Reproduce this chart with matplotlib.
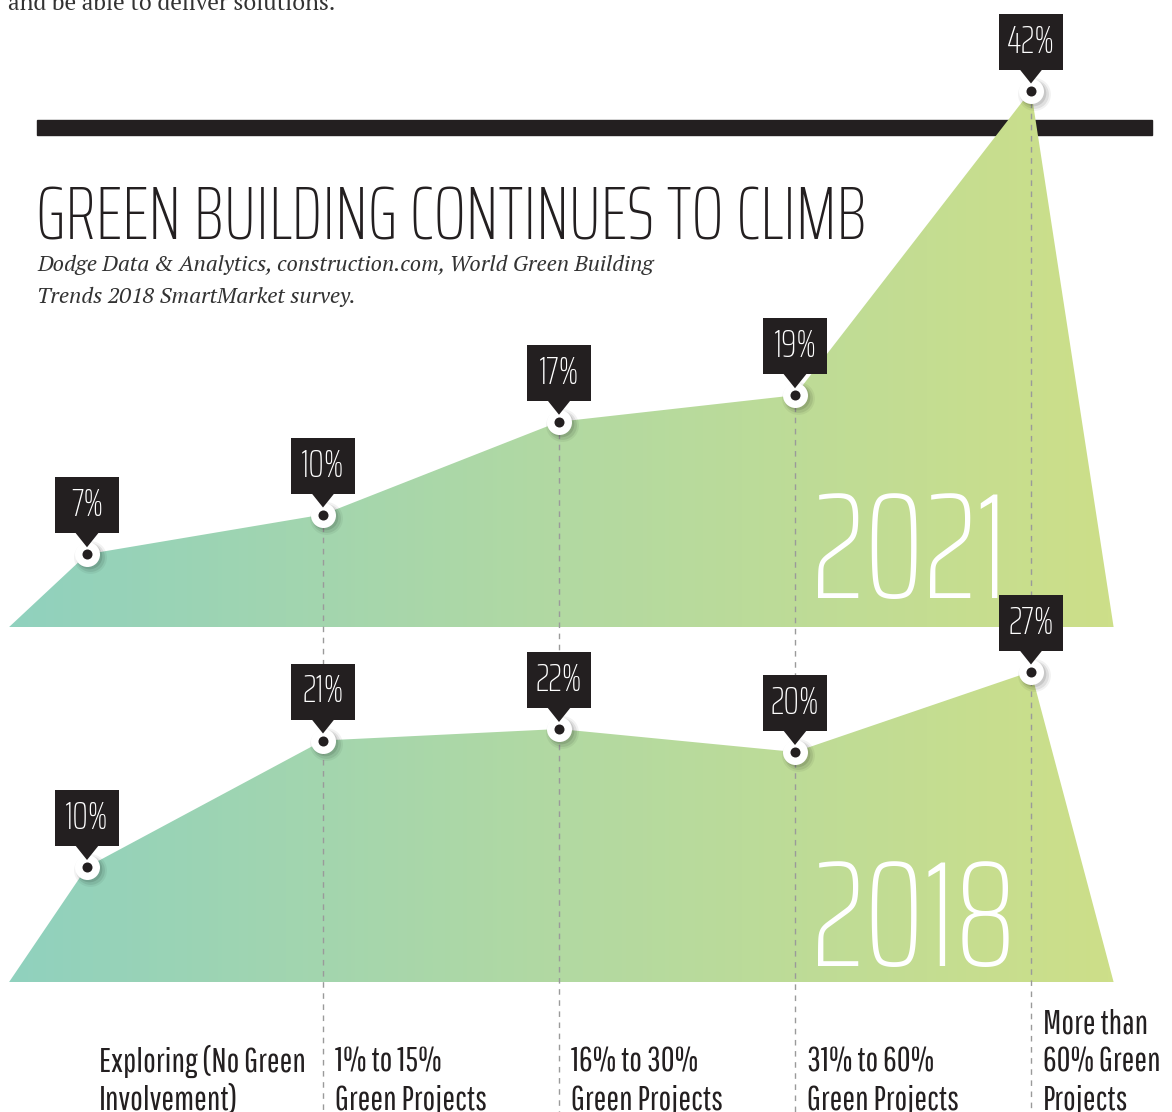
import matplotlib
matplotlib.use('Agg')
import numpy as np
import matplotlib.pyplot as plt
import matplotlib.transforms as mtransforms
from matplotlib.patches import Polygon, Rectangle
from matplotlib.colors import LinearSegmentedColormap

categories = ['Exploring (No Green\nInvolvement)', '1% to 15%\nGreen Projects',
              '16% to 30%\nGreen Projects', '31% to 60%\nGreen Projects',
              'More than\n60% Green\nProjects']
share_2021 = [7, 10, 17, 19, 42]
share_2018 = [10, 21, 22, 20, 27]
years = ['2021', '2018']
title = 'GREEN BUILDING CONTINUES TO CLIMB'
source = ['Dodge Data & Analytics, construction.com, World Green Building',
          'Trends 2018 SmartMarket survey.']
intro_tail = 'and be able to deliver solutions.'

W, H = 1172, 1112
COND = ['Saira ExtraCondensed', 'Liberation Sans Narrow', 'DejaVu Sans']
NARROW = ['Pathway Gothic One', 'Saira ExtraCondensed', 'Liberation Sans Narrow', 'DejaVu Sans']
SERIF = ['PT Serif', 'Liberation Serif', 'DejaVu Serif']
DARK = '#231f20'

fig = plt.figure(figsize=(W / 100, H / 100), dpi=100)
# pixel-space layer for the page furniture (bar, title, captions)
bg = fig.add_axes([0, 0, 1, 1], zorder=0)
bg.set_xlim(0, W)
bg.set_ylim(H, 0)
bg.axis('off')

# one axes per survey year, both spanning the page; everything is drawn in `ax`
ax21 = fig.add_axes([0, 0, 1, 1], zorder=-1)
ax21.axis('off')
ax = fig.add_axes([0, 0, 1, 1], zorder=1)
ax.axis('off')
ax.patch.set_alpha(0)

xlim = (-87 / 236, (W - 87) / 236)
ax.set_xlim(*xlim)
ax21.set_xlim(*xlim)
ax.set_ylim((982 - H) / 11.5, 982 / 11.5)
ax21.set_ylim((647 - H) / 13.25, 647 / 13.25)
tr21, tr18 = ax21.transData, ax.transData
base21 = 20 / 13.25   # the 2021 band sits a little lower than its zero line
base18 = 0

# black rule
bg.add_patch(Rectangle((37, 120), 1115, 15, color=DARK, zorder=0))

bg.text(8, 10, intro_tail, family=SERIF, fontsize=16.7, color='#333333',
        va='baseline', ha='left')
bg.text(36, 240, title, family=COND, weight=250, fontsize=54, color=DARK,
        va='baseline', ha='left')
for k, line in enumerate(source):
    bg.text(37, 271 + 32 * k, line, family=SERIF, style='italic',
            fontsize=16, color='#333333', va='baseline', ha='left')

# gradient filled areas
cmap = LinearSegmentedColormap.from_list('green', ['#90d1be', '#b2d9a2', '#cddf89'])
x0, x1 = -0.33, 4.35
grad = np.linspace(0, 1, 256)[None, :]
ylo, yhi = ax.get_ylim()
for vals, tr, base in [(share_2021, tr21, base21), (share_2018, tr18, base18)]:
    xs = [x0] + list(range(len(vals))) + [x1]
    ys = [base] + list(vals) + [base]
    poly = Polygon(np.column_stack([xs, ys]), closed=True, transform=tr,
                   facecolor='none', edgecolor='none')
    ax.add_patch(poly)
    im = ax.imshow(grad, extent=(x0, x1, ylo, yhi), cmap=cmap, aspect='auto',
                   interpolation='bilinear', zorder=1)
    im.set_clip_path(poly)

# big year labels inside the areas
for yr, yb in zip(years, [598, 966]):
    ax.text(812, yb, yr, transform=bg.transData, family=COND, weight=250, fontsize=108,
            color='white', va='baseline', ha='left', zorder=2)

# dashed guide lines from the 2021 points down to the category names
bottom21 = ax21.get_ylim()[0]
for i in range(1, len(categories)):
    ax.plot([i, i], [share_2021[i], bottom21], transform=tr21, color='#9a9a9a',
            lw=1.0, ls=(0, (4, 4)), zorder=2)

for vals, tr in [(share_2021, tr21), (share_2018, tr18)]:
    idx = list(range(len(vals)))
    for dx, s, a in [(3, 560, 0.05), (3, 430, 0.08), (2, 340, 0.10)]:
        sh = mtransforms.offset_copy(tr, fig=fig, x=dx, y=-dx, units='dots')
        ax.scatter(idx, vals, s=s, color='black', alpha=a, lw=0, transform=sh, zorder=3)
    ax.scatter(idx, vals, s=324, color='white', lw=0, transform=tr, zorder=4)
    ax.scatter(idx, vals, s=52, color=DARK, lw=0, transform=tr, zorder=5)
    for i, v in enumerate(vals):
        px, py = tr.transform((i, v))
        t = mtransforms.Affine2D().translate(px, py)
        ax.add_patch(Rectangle((-32, 21), 64, 56, transform=t, color=DARK, lw=0, zorder=6))
        ax.add_patch(Polygon([(-12, 22), (12, 22), (0, 7)], transform=t, color=DARK,
                             lw=0, zorder=6))
        ax.text(0, 49, f'{v}%', transform=t, family=COND, weight=250, fontsize=28,
                color='white', ha='center', va='center', zorder=7)

# category names along the bottom
for i, label in enumerate(categories):
    px = ax.transData.transform((i, 0))[0]
    lines = label.split('\n')
    for k, line in enumerate(lines):
        bg.text(px + 12, 1110 - 38 * (len(lines) - 1 - k), line, family=NARROW,
                fontsize=24.5, color=DARK, va='baseline', ha='left')

fig.savefig('out.png', dpi=100)
